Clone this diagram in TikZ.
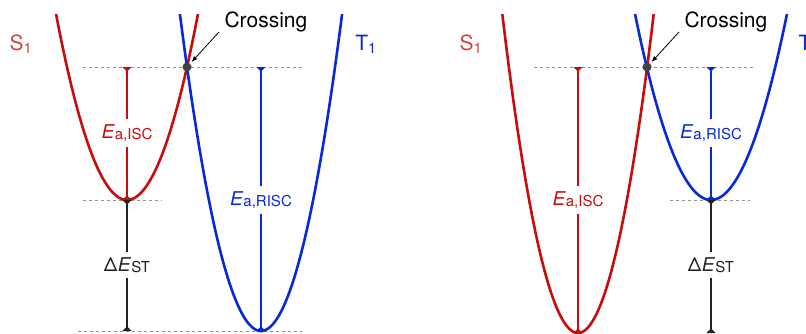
\documentclass[tikz,border=0pt]{standalone}
\usepackage{fontspec}
\setmainfont{TeX Gyre Heros}
\usetikzlibrary{arrows.meta}
\definecolor{sred}{RGB}{200,12,12}
\definecolor{slab}{RGB}{212,66,66}
\definecolor{tblue}{RGB}{8,40,218}
\definecolor{dotgray}{RGB}{66,66,66}
\definecolor{bargray}{RGB}{34,34,34}
\newcommand{\ea}[1]{\textit{E}\raisebox{-1.5pt}{\fontsize{15}{16}\selectfont #1}}
\newcommand{\dest}{Δ\kern0.5pt\textit{E}\raisebox{-1.5pt}{\fontsize{15}{16}\selectfont ST}}
\begin{document}
\begin{tikzpicture}[x=1pt, y=-1pt,
    level/.style={gray!85, line width=0.8pt, dash pattern=on 3pt off 3pt},
    curve/.style={line width=2.6pt},
    gap/.style={line width=1.7pt, {Triangle[reversed,width=9pt,length=4.5pt]}-{Triangle[reversed,width=9pt,length=4.5pt]}},
    lab/.style={fill=white, inner xsep=1pt, inner ysep=5pt, font=\fontsize{19}{22}\selectfont},
    state/.style={font=\fontsize{21}{24}\selectfont},
    dot/.style={circle, fill=dotgray, inner sep=0pt, minimum size=9pt},
    pointer/.style={line width=0.8pt, -{Latex[length=6pt,width=4.5pt]}, shorten >=2pt}]
    \useasboundingbox (0,0) rectangle (806,333);
    \clip (0,0) rectangle (806,333);
    % left: S1 above T1
    \draw[level] (83,67) -- (303,67);
    \draw[level] (83,200) -- (162,200);
    \draw[level] (78,331) -- (302,331);
    \begin{scope}
        \clip (0,14) rectangle (806,340);
        \draw[sred, curve] plot[domain=40:214, samples=90] (\x,{200-0.03694*(\x-127)^2});
        \draw[tblue, curve] plot[domain=165:357, samples=90] (\x,{331-0.0482*(\x-261)^2});
    \end{scope}
    \coordinate (la) at (127,67);
    \coordinate (lb) at (127,200);
    \coordinate (lc) at (127,331);
    \coordinate (ld) at (261,67);
    \coordinate (le) at (261,331);
    \draw[sred, gap] (la) -- (lb);
    \draw[bargray, gap] (lb) -- (lc);
    \draw[tblue, gap] (ld) -- (le);
    \node[lab, text=sred] (lisc) at (127,133) {\ea{a,ISC}};
    \node[lab, text=bargray] (lst) at (127,265) {\dest};
    \node[lab, text=tblue] (lrisc) at (261,200) {\ea{a,RISC}};
    \node[dot] (lx) at (187,67) {};
    \node[state, anchor=west] (lcr) at (221,22) {Crossing};
    \coordinate (lcp) at (219,32);
    \draw[pointer] (lcp) -- (lx);
    \node[state, text=slab] (ls) at (21,44) {S\textsubscript{1}};
    \node[state, text=tblue] (lt) at (366,44) {T\textsubscript{1}};
    % right: T1 above S1
    \draw[level] (534,67) -- (756,67);
    \draw[level] (670,200) -- (750,200);
    \begin{scope}
        \clip (0,14) rectangle (806,340);
        \draw[sred, curve] plot[domain=490:666, samples=90] (\x,{333-0.05566*(\x-578)^2});
        \draw[tblue, curve] plot[domain=625:797, samples=90] (\x,{200-0.03223*(\x-711)^2});
    \end{scope}
    \coordinate (ra) at (578,67);
    \coordinate (rb) at (578,333);
    \coordinate (rc) at (711,67);
    \coordinate (rd) at (711,200);
    \coordinate (re) at (711,333);
    \draw[sred, gap] (ra) -- (rb);
    \draw[tblue, gap] (rc) -- (rd);
    \draw[bargray, gap] (rd) -- (re);
    \node[lab, text=sred] (risc) at (578,200) {\ea{a,ISC}};
    \node[lab, text=tblue] (rrisc) at (711,133) {\ea{a,RISC}};
    \node[lab, text=bargray] (rst) at (711,265) {\dest};
    \node[dot] (rx) at (647,67) {};
    \node[state, anchor=west] (rcr) at (681,22) {Crossing};
    \coordinate (rcp) at (679,32);
    \draw[pointer] (rcp) -- (rx);
    \node[state, text=slab] (rs) at (471,44) {S\textsubscript{1}};
    \node[state, text=tblue, anchor=west] (rt) at (795,44) {T\textsubscript{1}};
\end{tikzpicture}
\end{document}
